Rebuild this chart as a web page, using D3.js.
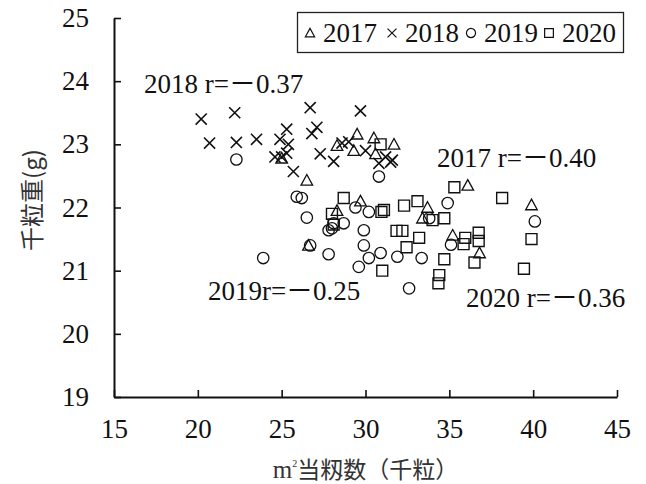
<!DOCTYPE html>
<html>
<head>
<meta charset="utf-8">
<script src="https://cdn.jsdelivr.net/npm/d3@7"></script>
<style>
  body { margin: 0; background: #fff; }
  svg { display: block; }
</style>
</head>
<body>
<svg id="chart" width="646" height="484"></svg>
<script>
// Spikelets per m² (thousand) vs. 1000-grain weight (g), by year
const years = ["2017", "2018", "2019", "2020"];
const xTicks = [15, 20, 25, 30, 35, 40, 45];
const yTicks = [19, 20, 21, 22, 23, 24, 25];

const pts2017 = [
  [25.0, 22.78], [26.5, 22.43], [26.6, 21.40], [28.3, 22.98], [29.3, 22.90],
  [29.5, 23.16], [30.5, 23.10], [30.6, 22.85], [31.7, 23.00], [28.3, 21.95],
  [29.7, 22.10], [33.4, 21.83], [33.7, 22.00], [35.2, 21.56], [36.1, 22.35],
  [36.8, 21.28], [39.9, 22.04]
];
const pts2018 = [
  [20.2, 23.40], [20.7, 23.02], [22.2, 23.50], [22.3, 23.03], [23.5, 23.08],
  [24.6, 22.80], [24.9, 23.08], [25.3, 23.24], [25.4, 23.00], [25.3, 22.86],
  [25.0, 22.80], [25.7, 22.57], [26.7, 23.58], [26.8, 23.17], [27.1, 23.27],
  [27.3, 22.85], [28.1, 22.73], [28.6, 23.02], [29.0, 23.04], [29.7, 23.53],
  [30.0, 22.90], [30.8, 22.70], [31.2, 22.80], [31.5, 22.72], [31.6, 22.75]
];
const pts2019 = [
  [22.3, 22.76], [23.9, 21.20], [25.9, 22.17], [26.2, 22.15], [26.5, 21.84],
  [26.7, 21.40], [27.8, 21.64], [28.0, 21.67], [28.1, 21.75], [28.7, 21.75],
  [27.8, 21.26], [29.4, 22.00], [29.6, 21.06], [29.9, 21.64], [29.9, 21.40],
  [30.2, 21.93], [30.2, 21.20], [30.8, 22.49], [30.9, 21.28], [31.9, 21.22],
  [32.6, 20.72], [33.35, 21.20], [33.8, 21.83], [34.9, 22.07], [35.1, 21.41],
  [40.1, 21.78]
];
const pts2020 = [
  [28.7, 22.15], [28.0, 21.90], [28.1, 21.73], [30.9, 23.00], [30.95, 21.93],
  [31.1, 21.96], [31.0, 21.00], [31.85, 21.63], [32.2, 21.63], [32.3, 22.03],
  [32.45, 21.37], [33.1, 22.10], [33.2, 21.52], [34.0, 21.80], [34.7, 21.83],
  [34.7, 21.18], [34.4, 20.93], [34.35, 20.80], [35.3, 22.32], [35.85, 21.42],
  [35.95, 21.52], [36.5, 21.13], [36.75, 21.60], [36.75, 21.47], [38.15, 22.15],
  [39.45, 21.03], [39.9, 21.50]
];
const seriesPoints = [pts2017, pts2018, pts2019, pts2020];

// correlation coefficients and where their captions sit (data units)
const rValues = ["－0.40", "－0.37", "－0.25", "－0.36"];
const rLabelSep = [" r=", " r=", "r=", " r="];
const rLabelAt = [[34.26, 22.64], [16.79, 23.81], [20.6, 20.54], [35.99, 20.42]];

const xTitle = "当籾数（千粒）";
const yTitle = "千粒重(g)";

const W = 646, H = 484;
const margin = { top: 18, right: 29, bottom: 87, left: 114 };

const svg = d3.select("#chart");
const x = d3.scaleLinear().domain([15, 45]).range([margin.left, W - margin.right]);
const y = d3.scaleLinear().domain([19, 25]).range([H - margin.bottom, margin.top]);

const ink = "#111";
const numFont = "'Liberation Serif', 'Noto Sans CJK JP', serif";
const cjkFont = "'Noto Sans CJK JP', 'Noto Sans CJK SC', sans-serif";
const numSize = "27px";

// marker shapes: triangle, cross, circle, square (all open)
const shapes = [
  { draw(c, s) { const r = s; c.moveTo(0, -r); c.lineTo(r, r * 0.82); c.lineTo(-r, r * 0.82); c.closePath(); } },
  { draw(c, s) { const r = s * 0.88; c.moveTo(-r, -r); c.lineTo(r, r); c.moveTo(r, -r); c.lineTo(-r, r); } },
  { draw(c, s) { c.moveTo(s, 0); c.arc(0, 0, s, 0, 2 * Math.PI); } },
  { draw(c, s) { const r = s * 0.96; c.rect(-r, -r, 2 * r, 2 * r); } }
];
const markSize = [5.8, 6.3, 5.7, 5.7];
const markStroke = [1.3, 1.6, 1.3, 1.4];

// axes
const xAxis = d3.axisBottom(x).tickValues(xTicks).tickFormat(d3.format("d"))
  .tickSizeInner(-7).tickSizeOuter(0).tickPadding(22);
const yAxis = d3.axisLeft(y).tickValues(yTicks).tickFormat(d3.format("d"))
  .tickSizeInner(-7).tickSizeOuter(0).tickPadding(25);

const gx = svg.append("g").attr("transform", `translate(0,${y(19)})`).call(xAxis);
const gy = svg.append("g").attr("transform", `translate(${x(15)},0)`).call(yAxis);
[gx, gy].forEach(g => {
  g.selectAll("path.domain").attr("stroke", ink).attr("stroke-width", 2);
  g.selectAll(".tick line").attr("stroke", ink).attr("stroke-width", 1.6);
  g.selectAll(".tick text").attr("fill", ink)
    .style("font-family", numFont).style("font-size", numSize);
});

// points
seriesPoints.forEach((pts, i) => {
  const sym = d3.symbol().type(shapes[i]).size(markSize[i]);
  svg.append("g").selectAll("path").data(pts).join("path")
    .attr("d", sym)
    .attr("transform", d => `translate(${x(d[0])},${y(d[1])})`)
    .attr("fill", "none")
    .attr("stroke", ink)
    .attr("stroke-width", markStroke[i]);
});

// r captions
years.forEach((yr, i) => {
  svg.append("text")
    .attr("x", x(rLabelAt[i][0]))
    .attr("y", y(rLabelAt[i][1]))
    .attr("fill", ink)
    .style("font-family", numFont)
    .style("font-size", numSize)
    .text(yr + rLabelSep[i] + rValues[i]);
});

// legend
const lg = svg.append("g");
lg.append("rect").attr("x", 297.5).attr("y", 12.5).attr("width", 326).attr("height", 40)
  .attr("fill", "#fff").attr("stroke", "#222").attr("stroke-width", 1.3);
const legendSym = [310, 392, 471, 549];
years.forEach((yr, i) => {
  const sym = d3.symbol().type(shapes[i]).size(markSize[i] * 0.8);
  lg.append("path").attr("d", sym)
    .attr("transform", `translate(${legendSym[i]},33)`)
    .attr("fill", "none").attr("stroke", ink).attr("stroke-width", 1.2);
  lg.append("text").attr("x", legendSym[i] + 13).attr("y", 42)
    .attr("fill", ink)
    .style("font-family", numFont).style("font-size", "27px")
    .text(yr);
});

// axis titles
const xt = svg.append("text")
  .attr("x", x(30)).attr("y", 478)
  .attr("text-anchor", "middle")
  .attr("fill", "#333")
  .style("font-family", cjkFont).style("font-size", "23px");
xt.append("tspan").style("font-family", numFont).style("font-size", "25px").text("m");
xt.append("tspan").attr("dy", -11).style("font-size", "10px").style("font-family", numFont).text("2");
xt.append("tspan").attr("dy", 11).text(xTitle);

svg.append("text")
  .attr("transform", `translate(41,200) rotate(-90)`)
  .attr("text-anchor", "middle")
  .attr("fill", "#333")
  .style("font-family", cjkFont).style("font-size", "24px")
  .text(yTitle);
</script>
</body>
</html>
